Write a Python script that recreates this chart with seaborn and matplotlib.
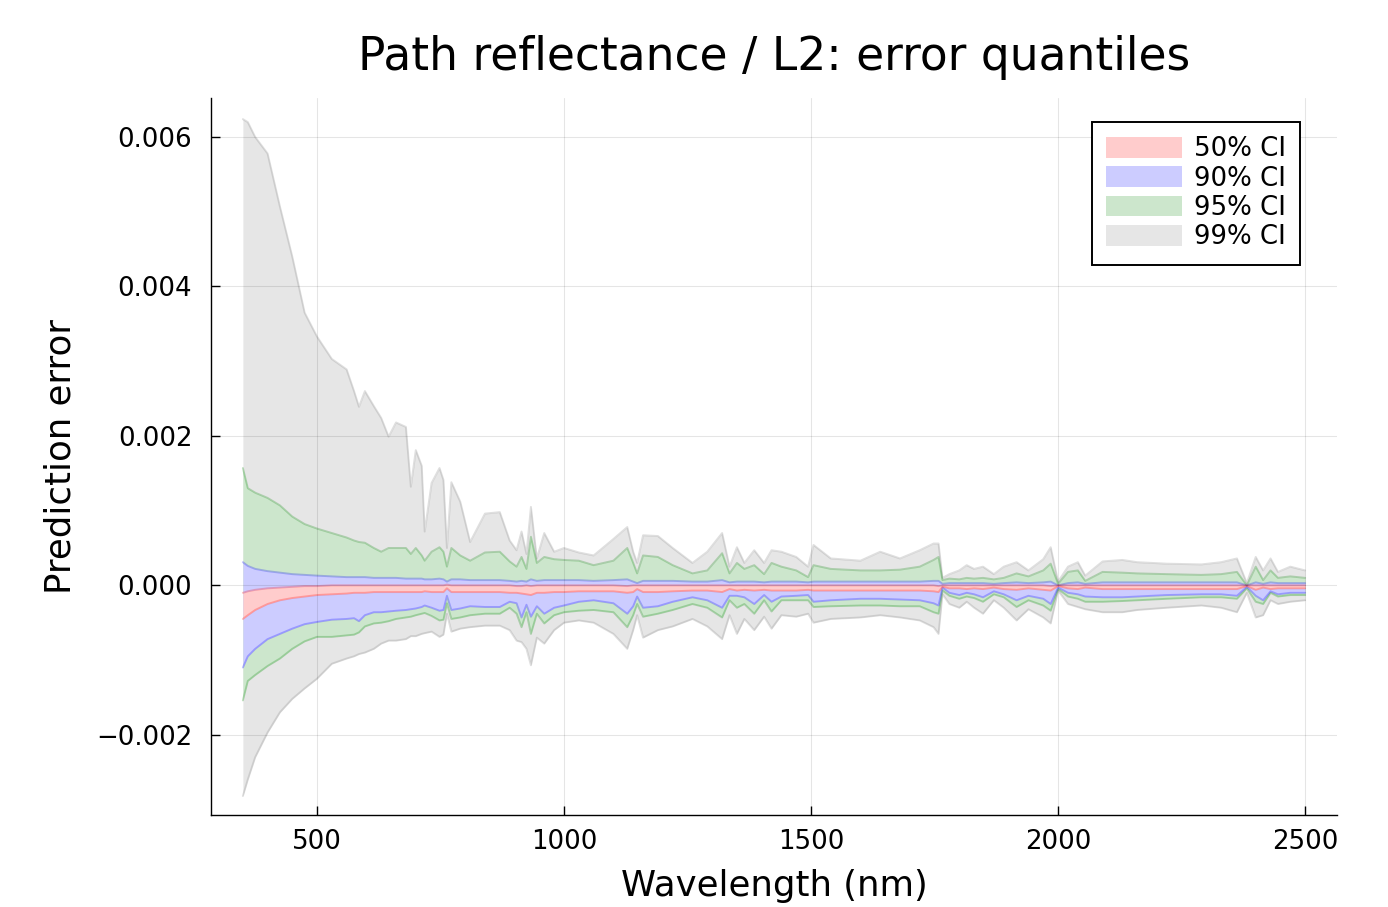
import numpy as np
import matplotlib
matplotlib.use("Agg")
import matplotlib.pyplot as plt
import seaborn as sns
from matplotlib.patches import Patch
from matplotlib.ticker import FixedLocator, FuncFormatter

# ---------------- data (errors in units of 1e-3) ----------------
UNIT = 1e-3

wavelength = np.array([
    350, 360, 375, 400, 425, 450, 475, 500, 530, 560,
    575, 585, 597, 615, 630, 645, 660, 680, 690, 700,
    712, 718, 732, 748, 756, 763, 772, 790, 810, 840,
    870, 890, 904, 914, 924, 933, 945, 960, 980, 1000,
    1030, 1060, 1100, 1128, 1140, 1148, 1160, 1190, 1220, 1260,
    1290, 1320, 1335, 1350, 1365, 1385, 1405, 1420, 1440, 1470,
    1494, 1505, 1540, 1600, 1640, 1680, 1720, 1748, 1758, 1766,
    1780, 1800, 1815, 1830, 1848, 1870, 1890, 1916, 1940, 1970,
    1985, 2000, 2020, 2040, 2055, 2090, 2130, 2160, 2220, 2290,
    2330, 2362, 2382, 2400, 2415, 2430, 2445, 2470, 2500])

q99_hi = np.array([
    6.24, 6.20, 6.00, 5.78, 5.07, 4.40, 3.65, 3.33, 3.03, 2.89,
    2.60, 2.39, 2.60, 2.40, 2.24, 1.99, 2.18, 2.12, 1.32, 1.81,
    1.60, 0.72, 1.37, 1.57, 1.41, 0.50, 1.38, 1.12, 0.58, 0.96,
    0.98, 0.60, 0.47, 0.72, 0.42, 1.05, 0.36, 0.70, 0.45, 0.50,
    0.44, 0.40, 0.62, 0.78, 0.45, 0.30, 0.67, 0.66, 0.50, 0.30,
    0.45, 0.70, 0.25, 0.51, 0.30, 0.47, 0.30, 0.47, 0.45, 0.38,
    0.25, 0.54, 0.36, 0.33, 0.45, 0.36, 0.47, 0.56, 0.56, 0.10,
    0.15, 0.20, 0.27, 0.22, 0.25, 0.15, 0.25, 0.31, 0.20, 0.35,
    0.51, 0.05, 0.25, 0.31, 0.13, 0.32, 0.34, 0.31, 0.29, 0.28,
    0.31, 0.36, 0.03, 0.38, 0.20, 0.36, 0.18, 0.25, 0.20])

q95_hi = np.array([
    1.57, 1.30, 1.24, 1.17, 1.07, 0.92, 0.82, 0.76, 0.70, 0.64,
    0.60, 0.58, 0.57, 0.50, 0.45, 0.50, 0.50, 0.50, 0.42, 0.50,
    0.40, 0.33, 0.45, 0.51, 0.45, 0.25, 0.50, 0.40, 0.33, 0.44,
    0.45, 0.32, 0.25, 0.38, 0.22, 0.65, 0.30, 0.38, 0.35, 0.34,
    0.33, 0.27, 0.33, 0.50, 0.30, 0.16, 0.40, 0.38, 0.27, 0.16,
    0.20, 0.43, 0.16, 0.30, 0.22, 0.27, 0.15, 0.30, 0.25, 0.20,
    0.11, 0.27, 0.22, 0.20, 0.20, 0.21, 0.25, 0.34, 0.38, 0.07,
    0.09, 0.08, 0.10, 0.09, 0.10, 0.08, 0.10, 0.16, 0.12, 0.20,
    0.29, 0.02, 0.18, 0.20, 0.06, 0.18, 0.17, 0.16, 0.15, 0.14,
    0.15, 0.18, 0.00, 0.25, 0.07, 0.20, 0.10, 0.12, 0.10])

q90_hi = np.array([
    0.31, 0.26, 0.22, 0.19, 0.17, 0.15, 0.14, 0.13, 0.12, 0.11,
    0.11, 0.11, 0.11, 0.10, 0.10, 0.10, 0.10, 0.09, 0.09, 0.09,
    0.09, 0.08, 0.08, 0.09, 0.08, 0.05, 0.08, 0.08, 0.07, 0.07,
    0.07, 0.06, 0.05, 0.06, 0.05, 0.08, 0.06, 0.07, 0.07, 0.07,
    0.07, 0.06, 0.07, 0.08, 0.05, 0.03, 0.06, 0.06, 0.06, 0.05,
    0.05, 0.07, 0.04, 0.05, 0.05, 0.05, 0.04, 0.05, 0.05, 0.05,
    0.04, 0.05, 0.05, 0.05, 0.05, 0.05, 0.05, 0.06, 0.06, 0.02,
    0.03, 0.03, 0.03, 0.03, 0.03, 0.02, 0.03, 0.04, 0.03, 0.04,
    0.05, 0.00, 0.03, 0.04, 0.02, 0.04, 0.04, 0.04, 0.04, 0.04,
    0.04, 0.04, 0.00, 0.04, 0.02, 0.04, 0.03, 0.03, 0.03])

q50_hi = np.array([
    -0.10, -0.08, -0.06, -0.04, -0.03, -0.02, -0.01, -0.01, 0.00, 0.00,
    0.00, 0.00, 0.00, 0.00, 0.00, 0.00, 0.00, 0.00, 0.00, 0.00,
    0.00, 0.00, 0.00, 0.00, 0.00, 0.01, 0.00, 0.00, 0.00, 0.00,
    0.00, 0.00, -0.01, -0.01, 0.00, -0.01, 0.00, 0.00, 0.00, 0.00,
    0.00, 0.00, 0.00, -0.01, 0.00, 0.00, 0.00, 0.00, 0.00, 0.00,
    0.00, 0.00, 0.00, 0.00, 0.00, 0.00, 0.00, 0.00, 0.00, 0.00,
    0.00, 0.00, 0.00, 0.00, 0.00, 0.00, 0.00, 0.00, -0.01, 0.00,
    0.00, 0.00, 0.00, 0.00, 0.00, 0.00, 0.00, 0.00, 0.00, 0.00,
    -0.01, 0.00, 0.00, 0.00, 0.00, 0.00, 0.00, 0.00, 0.00, 0.00,
    0.00, 0.00, 0.00, 0.00, 0.00, 0.00, 0.00, 0.00, 0.00])

q50_lo = np.array([
    -0.45, -0.40, -0.33, -0.25, -0.20, -0.17, -0.15, -0.13, -0.12, -0.11,
    -0.10, -0.10, -0.10, -0.09, -0.09, -0.09, -0.09, -0.09, -0.09, -0.09,
    -0.09, -0.08, -0.09, -0.09, -0.09, -0.04, -0.09, -0.09, -0.09, -0.09,
    -0.09, -0.10, -0.10, -0.11, -0.12, -0.13, -0.10, -0.10, -0.09, -0.09,
    -0.08, -0.08, -0.08, -0.10, -0.09, -0.05, -0.09, -0.09, -0.08, -0.07,
    -0.07, -0.09, -0.05, -0.07, -0.06, -0.07, -0.06, -0.07, -0.07, -0.07,
    -0.06, -0.07, -0.07, -0.07, -0.07, -0.07, -0.07, -0.08, -0.09, -0.02,
    -0.04, -0.04, -0.05, -0.04, -0.05, -0.03, -0.05, -0.06, -0.04, -0.06,
    -0.07, -0.01, -0.04, -0.05, -0.03, -0.05, -0.05, -0.05, -0.05, -0.05,
    -0.05, -0.05, -0.01, -0.06, -0.03, -0.05, -0.04, -0.04, -0.04])

q90_lo = np.array([
    -1.10, -0.95, -0.85, -0.72, -0.65, -0.58, -0.52, -0.49, -0.46, -0.45,
    -0.44, -0.48, -0.40, -0.36, -0.36, -0.35, -0.34, -0.33, -0.32, -0.31,
    -0.29, -0.27, -0.30, -0.34, -0.33, -0.14, -0.33, -0.31, -0.28, -0.29,
    -0.29, -0.22, -0.24, -0.43, -0.26, -0.42, -0.28, -0.38, -0.30, -0.27,
    -0.22, -0.20, -0.24, -0.38, -0.28, -0.15, -0.30, -0.28, -0.22, -0.16,
    -0.20, -0.30, -0.14, -0.14, -0.16, -0.25, -0.13, -0.22, -0.15, -0.14,
    -0.13, -0.22, -0.20, -0.18, -0.18, -0.19, -0.20, -0.24, -0.27, -0.03,
    -0.10, -0.13, -0.10, -0.12, -0.16, -0.08, -0.12, -0.20, -0.14, -0.18,
    -0.25, -0.03, -0.10, -0.12, -0.15, -0.16, -0.16, -0.15, -0.13, -0.12,
    -0.12, -0.14, -0.02, -0.14, -0.20, -0.08, -0.12, -0.10, -0.10])

q95_lo = np.array([
    -1.54, -1.28, -1.20, -1.08, -0.98, -0.85, -0.75, -0.69, -0.69, -0.67,
    -0.66, -0.63, -0.55, -0.51, -0.50, -0.48, -0.45, -0.43, -0.42, -0.40,
    -0.38, -0.37, -0.41, -0.47, -0.46, -0.24, -0.45, -0.43, -0.40, -0.38,
    -0.38, -0.30, -0.38, -0.56, -0.36, -0.65, -0.38, -0.51, -0.40, -0.36,
    -0.34, -0.33, -0.36, -0.56, -0.40, -0.25, -0.42, -0.38, -0.33, -0.25,
    -0.30, -0.43, -0.20, -0.30, -0.25, -0.38, -0.20, -0.35, -0.20, -0.20,
    -0.20, -0.29, -0.28, -0.27, -0.27, -0.28, -0.28, -0.36, -0.38, -0.07,
    -0.14, -0.18, -0.15, -0.17, -0.22, -0.12, -0.16, -0.29, -0.20, -0.27,
    -0.34, -0.05, -0.15, -0.18, -0.22, -0.22, -0.21, -0.20, -0.18, -0.16,
    -0.16, -0.18, -0.04, -0.22, -0.25, -0.10, -0.15, -0.13, -0.13])

q99_lo = np.array([
    -2.82, -2.60, -2.30, -1.97, -1.70, -1.52, -1.38, -1.25, -1.05, -0.98,
    -0.95, -0.92, -0.90, -0.85, -0.78, -0.74, -0.74, -0.72, -0.68, -0.68,
    -0.65, -0.64, -0.62, -0.69, -0.66, -0.38, -0.62, -0.58, -0.56, -0.54,
    -0.54, -0.60, -0.74, -0.76, -0.85, -1.07, -0.70, -0.78, -0.60, -0.50,
    -0.47, -0.50, -0.65, -0.85, -0.60, -0.40, -0.70, -0.60, -0.55, -0.45,
    -0.55, -0.72, -0.40, -0.65, -0.45, -0.60, -0.42, -0.58, -0.40, -0.42,
    -0.38, -0.50, -0.45, -0.43, -0.40, -0.43, -0.47, -0.56, -0.65, -0.12,
    -0.25, -0.30, -0.22, -0.30, -0.38, -0.20, -0.30, -0.47, -0.32, -0.43,
    -0.51, -0.07, -0.25, -0.29, -0.32, -0.36, -0.36, -0.33, -0.30, -0.27,
    -0.30, -0.36, -0.10, -0.43, -0.40, -0.20, -0.25, -0.22, -0.20])

labels = ["50% CI", "90% CI", "95% CI", "99% CI"]
x_ticks = [500, 1000, 1500, 2000, 2500]
y_ticks = [-0.002, 0.000, 0.002, 0.004, 0.006]

# ---------------- styling ----------------
sns.set_theme(style="ticks")
plt.rcParams["font.family"] = ["DejaVu Sans"]
plt.rcParams["text.color"] = "black"
plt.rcParams["axes.labelcolor"] = "black"
plt.rcParams["legend.labelcolor"] = "black"

fill_colors = {
    "50% CI": (1.0, 0.8, 0.8),
    "90% CI": (0.8, 0.8, 1.0),
    "95% CI": (0.8, 0.9, 0.8),
    "99% CI": (0.9, 0.9, 0.9),
}
line_colors = {
    "50% CI": (1.0, 0.0, 0.0),
    "90% CI": (0.0, 0.0, 1.0),
    "95% CI": (0.0, 0.5, 0.0),
    "99% CI": (0.5, 0.5, 0.5),
}
bands = {
    "50% CI": (q50_lo, q50_hi),
    "90% CI": (q90_lo, q90_hi),
    "95% CI": (q95_lo, q95_hi),
    "99% CI": (q99_lo, q99_hi),
}

fig = plt.figure(figsize=(13.88, 9.07), dpi=100)
ax = fig.add_axes([0.15202, 0.10143, 0.81124, 0.79052])

# draw widest band first so inner bands sit on top
for lab in ["99% CI", "95% CI", "90% CI", "50% CI"]:
    lo, hi = bands[lab]
    ax.fill_between(wavelength, lo * UNIT, hi * UNIT, color=fill_colors[lab],
                    linewidth=0, zorder=1)
    for arr in (lo, hi):
        sns.lineplot(x=wavelength, y=arr * UNIT, ax=ax, color=line_colors[lab],
                     alpha=0.25, linewidth=1.4, estimator=None, legend=False,
                     zorder=1.5)

ax.set_xlim(285.5, 2564.5)
ax.set_ylim(-0.003074, 0.006523)
ax.xaxis.set_major_locator(FixedLocator(x_ticks))
ax.yaxis.set_major_locator(FixedLocator(y_ticks))
ax.yaxis.set_major_formatter(FuncFormatter(lambda v, p: f"{v:.3f}".replace("-", "\u2212")))
ax.xaxis.set_major_formatter(FuncFormatter(lambda v, p: f"{int(round(v))}"))

ax.grid(True, color="black", alpha=0.1, linewidth=0.8)
ax.set_axisbelow(False)

for side in ["top", "right"]:
    ax.spines[side].set_visible(False)
for side in ["left", "bottom"]:
    ax.spines[side].set_color("black")
    ax.spines[side].set_linewidth(1.0)
    ax.spines[side].set_zorder(3)

ax.tick_params(axis="both", direction="in", length=6.5, width=1.0,
               colors="black", labelcolor="black", labelsize=18.7)
ax.tick_params(axis="x", pad=10)
ax.tick_params(axis="y", pad=13.5)

ax.set_title("Path reflectance / L2: error quantiles", fontsize=32.8, pad=20,
             color="black")
ax.set_xlabel("Wavelength (nm)", fontsize=25.6, labelpad=10, color="black")
ax.set_ylabel("Prediction error", fontsize=25.6, labelpad=13, color="black")

handles = [Patch(facecolor=fill_colors[l], edgecolor="none") for l in labels]
leg = ax.legend(handles, labels, loc="upper right", bbox_to_anchor=(0.967, 0.9665),
                borderaxespad=0, fontsize=18.7, frameon=True, fancybox=False,
                framealpha=1, edgecolor="black", handlelength=2.9,
                handleheight=0.85, handletextpad=0.46, labelspacing=0.13,
                borderpad=0.55)
for t in leg.get_texts():
    t.set_color("black")
leg.get_frame().set_linewidth(1.4)
leg.set_zorder(5)

fig.savefig("out.png", dpi=100)
